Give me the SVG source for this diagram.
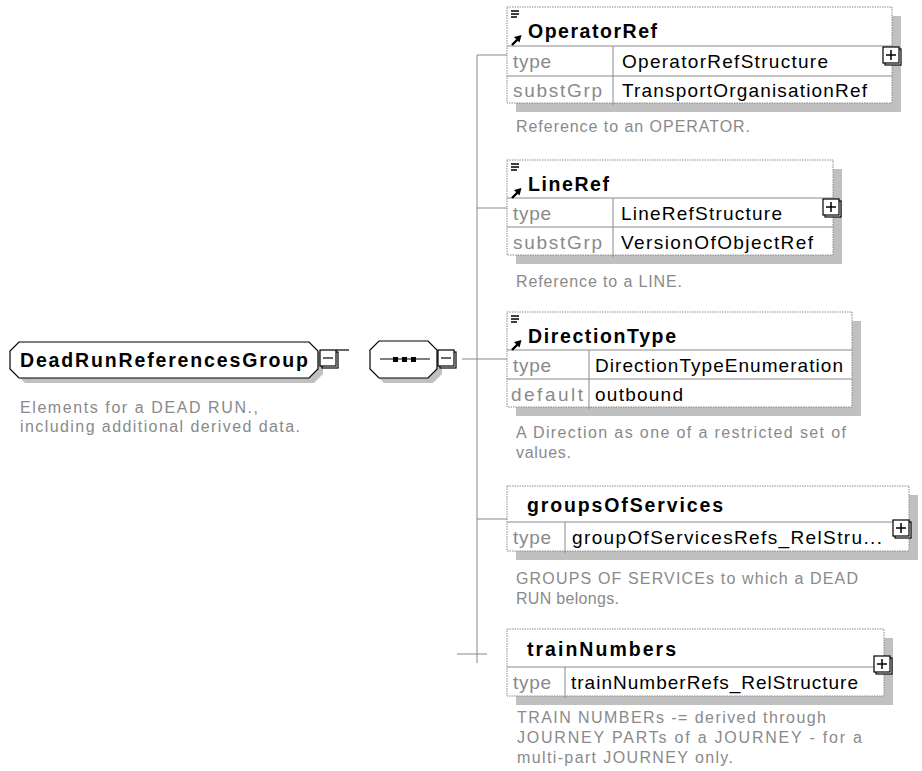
<svg xmlns="http://www.w3.org/2000/svg" width="922" height="771" viewBox="0 0 922 771">
<defs>
<style>
text{font-family:"Liberation Sans",Arial,sans-serif;}
.ttl{font-weight:bold;font-size:19.5px;fill:#000;}
.lbl{font-size:19px;fill:#8a8a8a;}
.val{font-size:19px;fill:#000;}
.dsc{font-size:16px;fill:#8a8a8a;}
.shd{fill:#c0c0c0;stroke:none;}
.box{fill:#fff;stroke:#8a8a8a;stroke-width:1;stroke-dasharray:1.5,1;}
.sep{stroke:#8a8a8a;stroke-width:1;fill:none;}
.oct{fill:#fff;stroke:#000;stroke-width:1.2;}
.btn{fill:#fff;stroke:#000;stroke-width:1.2;}
.con{stroke:#888;stroke-width:1;fill:none;}
.ico{stroke:#000;stroke-width:1.5;fill:none;}
</style>
<g id="plusBtn">
<rect x="2" y="2" width="16" height="16" class="btn"/>
<rect x="0" y="0" width="16" height="16" class="btn"/>
<path d="M3,8H13M8,3V13" stroke="#000" stroke-width="1.5"/>
</g>
<g id="minusBtn">
<rect x="2" y="2" width="16" height="16" class="btn"/>
<rect x="0" y="0" width="16" height="16" class="btn"/>
<path d="M3,8H13" stroke="#000" stroke-width="1.2"/>
</g>
<g id="refIcon">
<path d="M0,0H8M0,3H8M0,6H6" class="ico"/>
<path d="M1,34L7,28" stroke="#000" stroke-width="2.4"/>
<polygon points="3,26 10.5,24 8.5,31.5" fill="#000"/>
</g>
</defs>

<g id="connectors">
<line x1="462" y1="359" x2="477" y2="359" class="con"/>
<line x1="477" y1="55" x2="477" y2="663" class="con"/>
<line x1="477" y1="55" x2="507" y2="55" class="con"/>
<line x1="477" y1="208" x2="507" y2="208" class="con"/>
<line x1="477" y1="359" x2="507" y2="359" class="con"/>
<line x1="477" y1="519" x2="507" y2="519" class="con"/>
<line x1="457" y1="654" x2="487" y2="654" class="con"/>
</g>

<g id="DeadRunReferencesGroup">
<path d="M25,347H314L323,356V374L314,383H25L16,374V356Z" class="shd"/>
<path d="M19,342H309L318,351V369L309,378H19L10,369V351Z" class="oct"/>
<text x="20" y="367" class="ttl" textLength="288" lengthAdjust="spacing">DeadRunReferencesGroup</text>
<use href="#minusBtn" x="320" y="350"/>
<line x1="336" y1="350" x2="349" y2="350" stroke="#000" stroke-width="1.2"/>
<text x="20" y="413" class="dsc" textLength="238" lengthAdjust="spacing">Elements for a DEAD RUN.,</text>
<text x="20" y="432" class="dsc" textLength="280" lengthAdjust="spacing">including additional derived data.</text>
</g>

<g id="sequence">
<path d="M384,346H433L442,355V374L433,383H384L375,374V355Z" class="shd"/>
<path d="M379,341H428L437,350V369L428,378H379L370,369V350Z" class="oct"/>
<line x1="380" y1="359" x2="430" y2="359" stroke="#000" stroke-width="1.2"/>
<rect x="393" y="357" width="5" height="5" fill="#000"/>
<rect x="402" y="357" width="5" height="5" fill="#000"/>
<rect x="411" y="357" width="5" height="5" fill="#000"/>
<use href="#minusBtn" x="438" y="350"/>
</g>

<g id="OperatorRef">
<rect x="516" y="16" width="385" height="96" class="shd"/>
<rect x="507" y="7" width="385" height="96" class="box"/>
<path d="M507,46H892M507,76H892M613,46V105" class="sep"/>
<use href="#refIcon" x="511" y="11"/>
<text x="528" y="38" class="ttl" textLength="129" lengthAdjust="spacing">OperatorRef</text>
<text x="513" y="68" class="lbl" textLength="38" lengthAdjust="spacing">type</text>
<text x="622" y="68" class="val" textLength="206" lengthAdjust="spacing">OperatorRefStructure</text>
<text x="513" y="97" class="lbl" textLength="89" lengthAdjust="spacing">substGrp</text>
<text x="622" y="97" class="val" textLength="245" lengthAdjust="spacing">TransportOrganisationRef</text>
<use href="#plusBtn" x="883" y="47"/>
<text x="516" y="132" class="dsc" textLength="234" lengthAdjust="spacing">Reference to an OPERATOR.</text>
</g>

<g id="LineRef">
<rect x="516" y="169" width="326" height="95" class="shd"/>
<rect x="507" y="160" width="326" height="95" class="box"/>
<path d="M507,198H833M507,227H833M613,198V257" class="sep"/>
<use href="#refIcon" x="511" y="164"/>
<text x="528" y="191" class="ttl" textLength="81" lengthAdjust="spacing">LineRef</text>
<text x="513" y="220" class="lbl" textLength="38" lengthAdjust="spacing">type</text>
<text x="621" y="220" class="val" textLength="161" lengthAdjust="spacing">LineRefStructure</text>
<text x="513" y="249" class="lbl" textLength="89" lengthAdjust="spacing">substGrp</text>
<text x="621" y="249" class="val" textLength="192" lengthAdjust="spacing">VersionOfObjectRef</text>
<use href="#plusBtn" x="823" y="199"/>
<text x="516" y="287" class="dsc" textLength="166" lengthAdjust="spacing">Reference to a LINE.</text>
</g>

<g id="DirectionType">
<rect x="516" y="321" width="345" height="95" class="shd"/>
<rect x="507" y="312" width="345" height="95" class="box"/>
<path d="M507,350H852M507,379H852M589,350V409" class="sep"/>
<use href="#refIcon" x="511" y="316"/>
<text x="528" y="343" class="ttl" textLength="148" lengthAdjust="spacing">DirectionType</text>
<text x="513" y="372" class="lbl" textLength="38" lengthAdjust="spacing">type</text>
<text x="595" y="372" class="val" textLength="248" lengthAdjust="spacing">DirectionTypeEnumeration</text>
<text x="511" y="401" class="lbl" textLength="72" lengthAdjust="spacing">default</text>
<text x="595" y="401" class="val" textLength="88" lengthAdjust="spacing">outbound</text>
<text x="516" y="438" class="dsc" textLength="330" lengthAdjust="spacing">A Direction as one of a restricted set of</text>
<text x="516" y="458" class="dsc" textLength="55" lengthAdjust="spacing">values.</text>
</g>

<g id="groupsOfServices">
<rect x="516" y="495" width="402" height="65" class="shd"/>
<rect x="507" y="486" width="402" height="65" class="box"/>
<path d="M507,522H909M565,522V553" class="sep"/>
<text x="527" y="512" class="ttl" textLength="196" lengthAdjust="spacing">groupsOfServices</text>
<text x="513" y="544" class="lbl" textLength="38" lengthAdjust="spacing">type</text>
<text x="572" y="544" class="val" textLength="310" lengthAdjust="spacing">groupOfServicesRefs_RelStru...</text>
<use href="#plusBtn" x="893" y="520"/>
<text x="516" y="584" class="dsc" textLength="342" lengthAdjust="spacing">GROUPS OF SERVICEs to which a DEAD</text>
<text x="516" y="604" class="dsc" textLength="103" lengthAdjust="spacing">RUN belongs.</text>
</g>

<g id="trainNumbers">
<rect x="516" y="638" width="377" height="67" class="shd"/>
<rect x="507" y="629" width="377" height="67" class="box"/>
<path d="M507,667H884M565,667V698" class="sep"/>
<text x="527" y="656" class="ttl" textLength="149" lengthAdjust="spacing">trainNumbers</text>
<text x="513" y="689" class="lbl" textLength="38" lengthAdjust="spacing">type</text>
<text x="571" y="689" class="val" textLength="287" lengthAdjust="spacing">trainNumberRefs_RelStructure</text>
<use href="#plusBtn" x="874" y="656"/>
<text x="517" y="723" class="dsc" textLength="309" lengthAdjust="spacing">TRAIN NUMBERs -= derived through</text>
<text x="517" y="743" class="dsc" textLength="345" lengthAdjust="spacing">JOURNEY PARTs  of a JOURNEY - for a</text>
<text x="517" y="763" class="dsc" textLength="216" lengthAdjust="spacing">multi-part JOURNEY only.</text>
</g>
</svg>
